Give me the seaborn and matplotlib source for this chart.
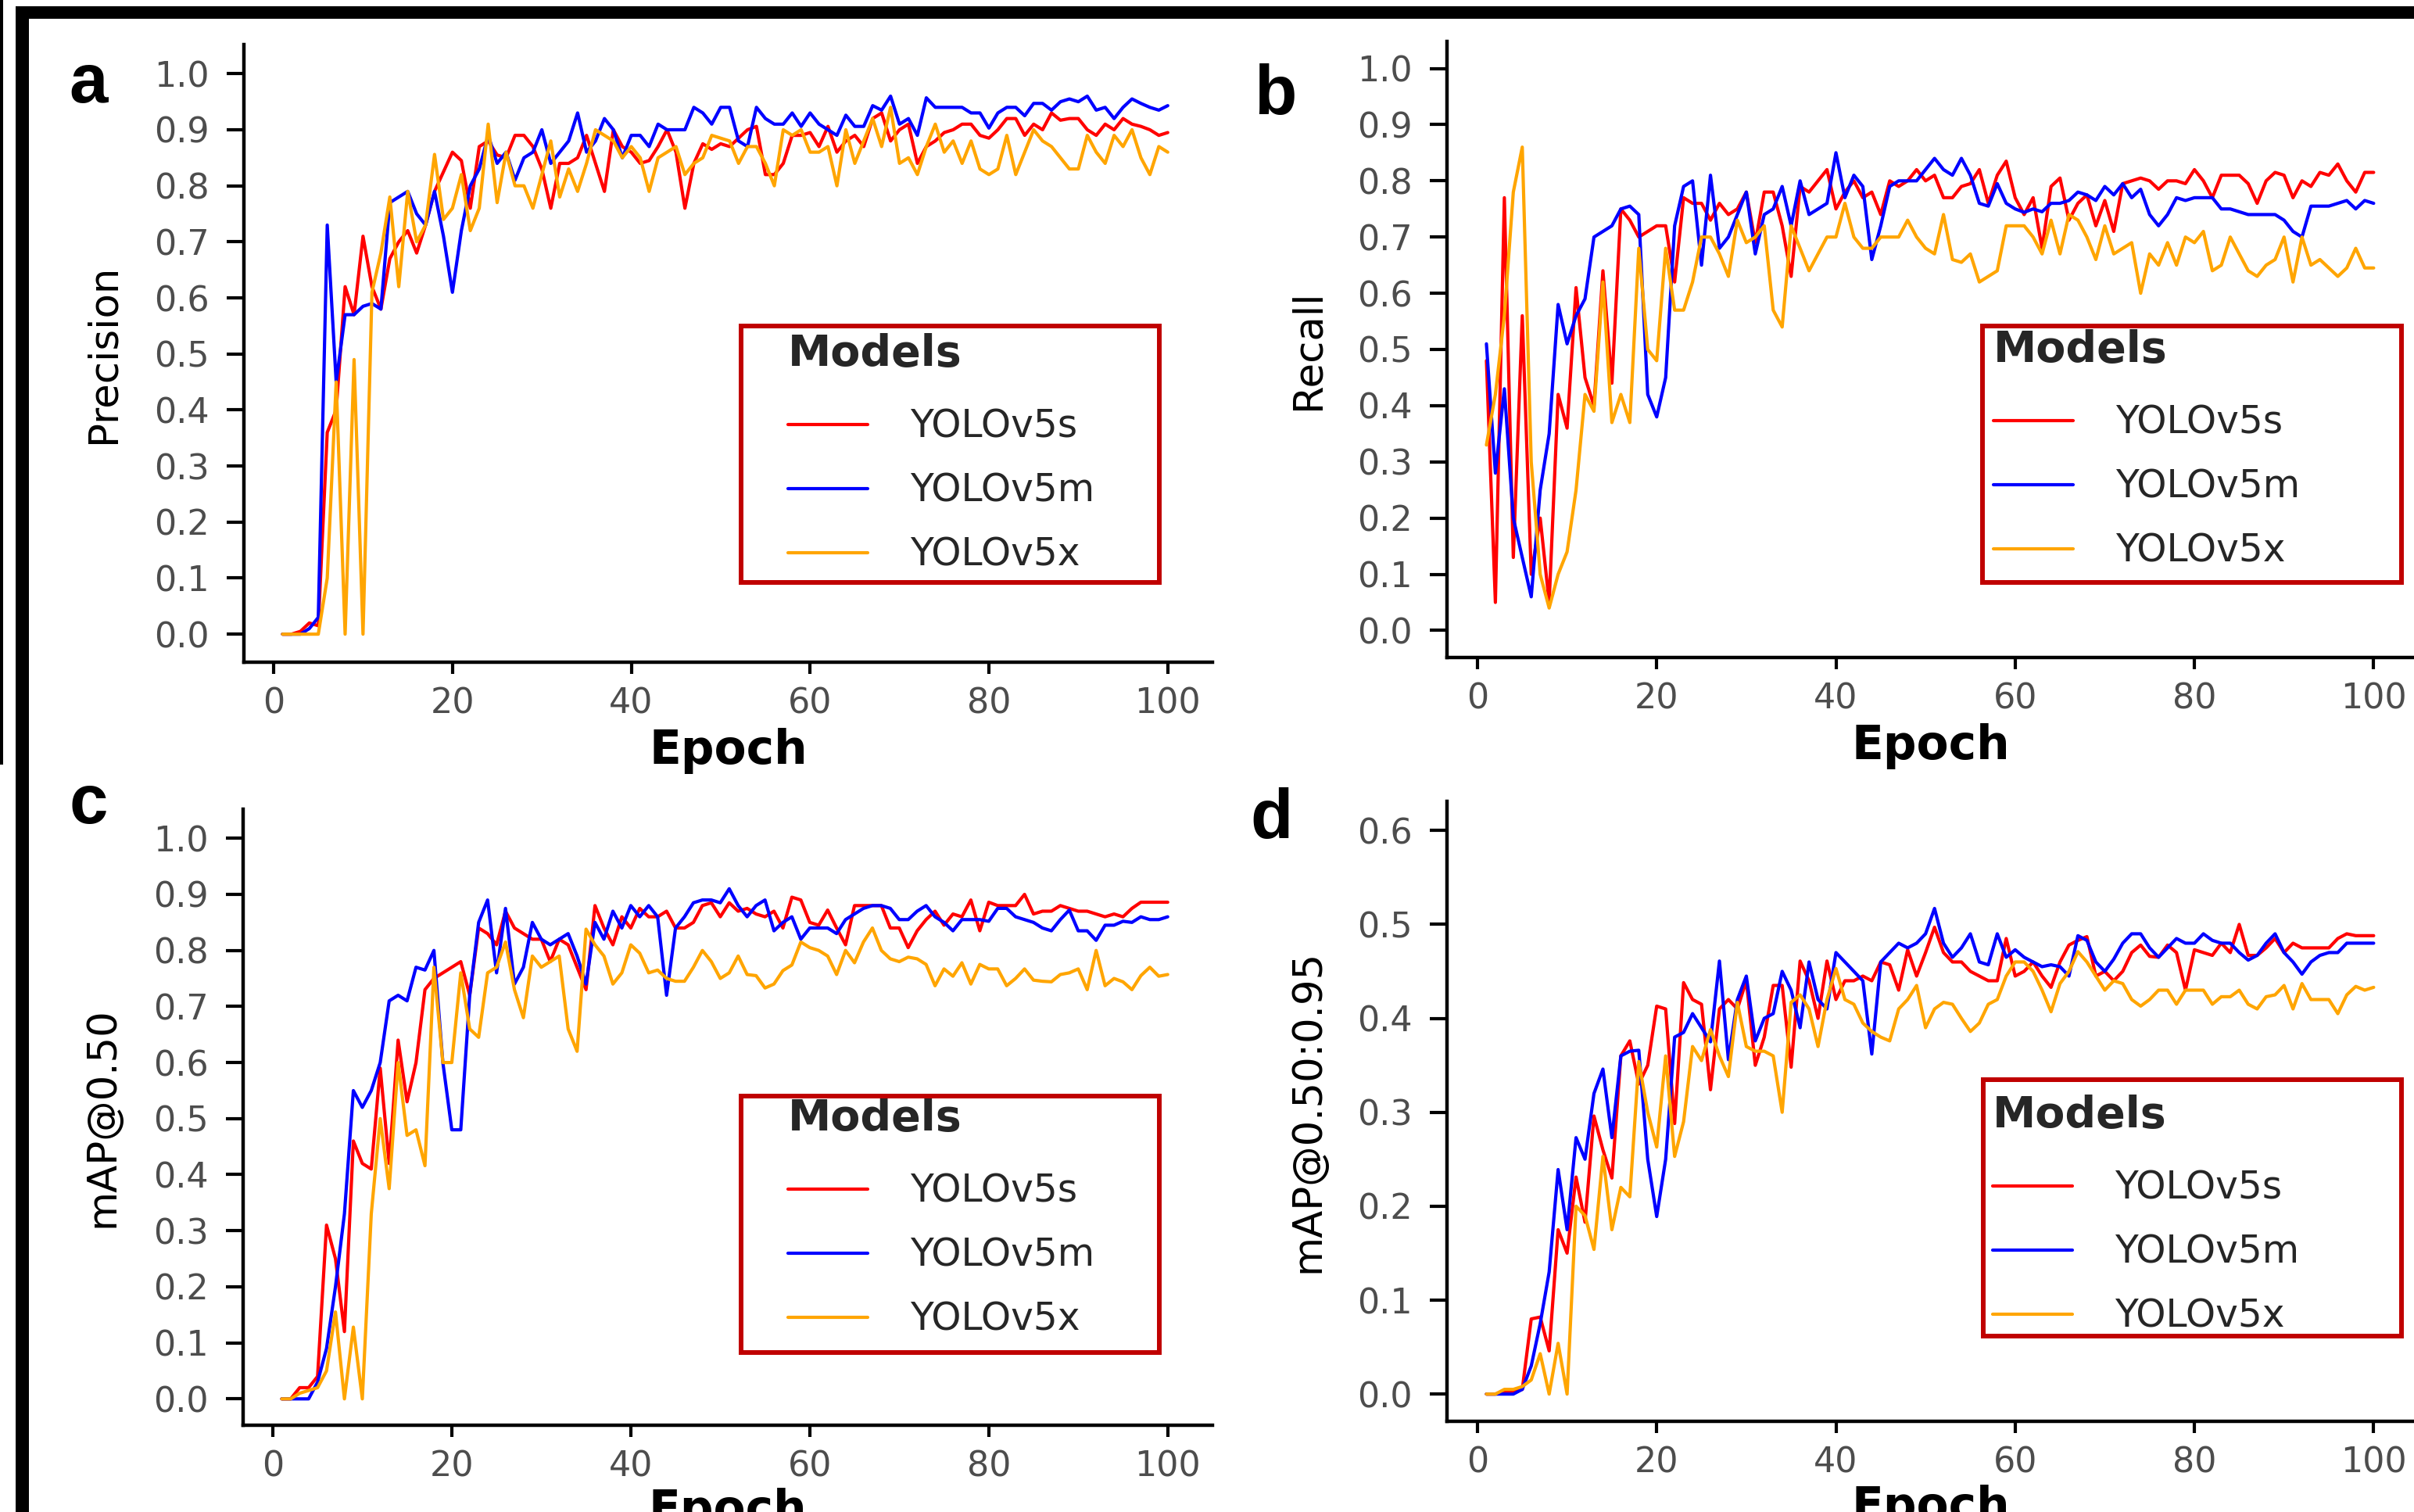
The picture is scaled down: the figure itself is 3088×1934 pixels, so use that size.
import numpy as np
import pandas as pd
import matplotlib
matplotlib.use("Agg")
import matplotlib.pyplot as plt
import seaborn as sns
from matplotlib.patches import Rectangle
from matplotlib.lines import Line2D
from matplotlib.ticker import FormatStrFormatter

# ---------------- data ----------------
epochs = list(range(1, 101))
models = ["YOLOv5s", "YOLOv5m", "YOLOv5x"]
model_colors = {"YOLOv5s": "#FF0000", "YOLOv5m": "#0000FF", "YOLOv5x": "#FFA500"}

precision_s = [0.0, 0.0, 0.005, 0.02, 0.015, 0.36, 0.40, 0.62, 0.57, 0.71,
               0.62, 0.58, 0.67, 0.70, 0.72, 0.68, 0.73, 0.79, 0.825, 0.86,
               0.845, 0.76, 0.87, 0.88, 0.855, 0.85, 0.89, 0.89, 0.87, 0.83,
               0.76, 0.84, 0.84, 0.85, 0.89, 0.84, 0.79, 0.90, 0.87, 0.86,
               0.84, 0.845, 0.87, 0.90, 0.86, 0.76, 0.84, 0.875, 0.865, 0.875,
               0.87, 0.885, 0.90, 0.906, 0.82, 0.82, 0.84, 0.89, 0.89, 0.895,
               0.87, 0.906, 0.86, 0.88, 0.89, 0.87, 0.92, 0.93, 0.88, 0.90,
               0.91, 0.84, 0.87, 0.88, 0.895, 0.90, 0.91, 0.91, 0.89, 0.885,
               0.90, 0.92, 0.92, 0.89, 0.91, 0.90, 0.93, 0.917, 0.92, 0.92,
               0.90, 0.89, 0.91, 0.90, 0.92, 0.91, 0.906, 0.90, 0.89, 0.895]
precision_m = [0.0, 0.0, 0.0, 0.01, 0.03, 0.73, 0.45, 0.57, 0.57, 0.585,
               0.59, 0.58, 0.77, 0.78, 0.79, 0.75, 0.73, 0.79, 0.71, 0.61,
               0.72, 0.80, 0.83, 0.89, 0.84, 0.86, 0.81, 0.85, 0.86, 0.90,
               0.84, 0.86, 0.88, 0.93, 0.86, 0.88, 0.92, 0.90, 0.85, 0.89,
               0.89, 0.87, 0.91, 0.90, 0.90, 0.90, 0.94, 0.93, 0.91, 0.94,
               0.94, 0.88, 0.87, 0.94, 0.92, 0.91, 0.91, 0.93, 0.906, 0.93,
               0.91, 0.90, 0.89, 0.926, 0.906, 0.906, 0.943, 0.935, 0.96, 0.91,
               0.92, 0.89, 0.957, 0.94, 0.94, 0.94, 0.94, 0.93, 0.93, 0.903,
               0.93, 0.94, 0.94, 0.925, 0.947, 0.947, 0.935, 0.95, 0.955, 0.95,
               0.96, 0.935, 0.94, 0.92, 0.94, 0.955, 0.947, 0.94, 0.935, 0.943]
precision_x = [0.0, 0.0, 0.0, 0.0, 0.0, 0.10, 0.45, 0.0, 0.49, 0.0,
               0.61, 0.68, 0.78, 0.62, 0.79, 0.70, 0.73, 0.856, 0.74, 0.76,
               0.82, 0.72, 0.76, 0.91, 0.77, 0.86, 0.80, 0.80, 0.76, 0.82,
               0.88, 0.78, 0.83, 0.79, 0.84, 0.90, 0.89, 0.88, 0.85, 0.87,
               0.85, 0.79, 0.85, 0.86, 0.87, 0.82, 0.84, 0.85, 0.89, 0.885,
               0.88, 0.84, 0.87, 0.87, 0.84, 0.80, 0.90, 0.89, 0.90, 0.86,
               0.86, 0.87, 0.80, 0.90, 0.84, 0.88, 0.92, 0.87, 0.94, 0.84,
               0.85, 0.82, 0.87, 0.91, 0.86, 0.88, 0.84, 0.88, 0.83, 0.82,
               0.83, 0.89, 0.82, 0.86, 0.90, 0.88, 0.87, 0.85, 0.83, 0.83,
               0.89, 0.86, 0.84, 0.89, 0.87, 0.90, 0.85, 0.82, 0.87, 0.86]

recall_s = [0.48, 0.05, 0.77, 0.13, 0.56, 0.10, 0.20, 0.05, 0.42, 0.36,
            0.61, 0.45, 0.40, 0.64, 0.44, 0.75, 0.73, 0.70, 0.71, 0.72,
            0.72, 0.62, 0.77, 0.76, 0.76, 0.73, 0.76, 0.74, 0.75, 0.78,
            0.69, 0.78, 0.78, 0.72, 0.63, 0.79, 0.78, 0.80, 0.82, 0.75,
            0.78, 0.80, 0.77, 0.78, 0.74, 0.80, 0.79, 0.80, 0.82, 0.80,
            0.81, 0.77, 0.77, 0.79, 0.795, 0.82, 0.76, 0.81, 0.835, 0.77,
            0.74, 0.77, 0.68, 0.79, 0.805, 0.73, 0.76, 0.775, 0.72, 0.765,
            0.71, 0.795, 0.80, 0.805, 0.80, 0.785, 0.80, 0.80, 0.795, 0.82,
            0.80, 0.77, 0.81, 0.81, 0.81, 0.795, 0.76, 0.80, 0.815, 0.81,
            0.77, 0.80, 0.79, 0.815, 0.81, 0.83, 0.80, 0.78, 0.815, 0.815]
recall_m = [0.51, 0.28, 0.43, 0.20, 0.13, 0.06, 0.25, 0.35, 0.58, 0.51,
            0.56, 0.59, 0.70, 0.71, 0.72, 0.75, 0.755, 0.74, 0.42, 0.38,
            0.45, 0.72, 0.79, 0.80, 0.65, 0.81, 0.68, 0.70, 0.74, 0.78,
            0.67, 0.74, 0.75, 0.79, 0.72, 0.80, 0.74, 0.75, 0.76, 0.85,
            0.77, 0.81, 0.79, 0.66, 0.72, 0.79, 0.80, 0.80, 0.80, 0.82,
            0.84, 0.82, 0.81, 0.84, 0.81, 0.76, 0.755, 0.795, 0.76, 0.75,
            0.744, 0.75, 0.745, 0.76, 0.76, 0.765, 0.78, 0.775, 0.765, 0.79,
            0.775, 0.795, 0.77, 0.785, 0.74, 0.72, 0.74, 0.77, 0.765, 0.77,
            0.77, 0.77, 0.75, 0.75, 0.745, 0.74, 0.74, 0.74, 0.74, 0.73,
            0.71, 0.70, 0.755, 0.755, 0.755, 0.76, 0.765, 0.75, 0.765, 0.76]
recall_x = [0.33, 0.42, 0.56, 0.78, 0.86, 0.30, 0.10, 0.04, 0.10, 0.14,
            0.25, 0.42, 0.39, 0.62, 0.37, 0.42, 0.37, 0.68, 0.50, 0.48,
            0.68, 0.57, 0.57, 0.62, 0.70, 0.70, 0.67, 0.63, 0.73, 0.69,
            0.70, 0.72, 0.57, 0.54, 0.72, 0.68, 0.64, 0.67, 0.70, 0.70,
            0.76, 0.70, 0.68, 0.68, 0.70, 0.70, 0.70, 0.73, 0.70, 0.68,
            0.67, 0.74, 0.66, 0.655, 0.67, 0.62, 0.63, 0.64, 0.72, 0.72,
            0.72, 0.70, 0.67, 0.73, 0.67, 0.74, 0.73, 0.70, 0.66, 0.72,
            0.67, 0.68, 0.69, 0.60, 0.67, 0.65, 0.69, 0.65, 0.70, 0.69,
            0.71, 0.64, 0.65, 0.70, 0.67, 0.64, 0.63, 0.65, 0.66, 0.70,
            0.62, 0.70, 0.65, 0.66, 0.645, 0.63, 0.645, 0.68, 0.645, 0.645]

map50_s = [0.0, 0.0, 0.02, 0.02, 0.04, 0.31, 0.25, 0.12, 0.46, 0.42,
           0.41, 0.59, 0.42, 0.64, 0.53, 0.60, 0.73, 0.75, 0.76, 0.77,
           0.78, 0.72, 0.84, 0.83, 0.81, 0.87, 0.84, 0.83, 0.82, 0.82,
           0.78, 0.82, 0.81, 0.77, 0.73, 0.88, 0.84, 0.81, 0.86, 0.84,
           0.875, 0.86, 0.86, 0.87, 0.84, 0.84, 0.85, 0.88, 0.885, 0.86,
           0.885, 0.87, 0.875, 0.865, 0.86, 0.87, 0.84, 0.895, 0.89, 0.85,
           0.845, 0.872, 0.84, 0.81, 0.88, 0.88, 0.88, 0.88, 0.84, 0.84,
           0.805, 0.835, 0.855, 0.87, 0.845, 0.865, 0.86, 0.89, 0.835, 0.886,
           0.88, 0.88, 0.88, 0.90, 0.865, 0.87, 0.87, 0.88, 0.875, 0.87,
           0.87, 0.865, 0.86, 0.865, 0.86, 0.875, 0.886, 0.886, 0.886, 0.886]
map50_m = [0.0, 0.0, 0.0, 0.0, 0.03, 0.09, 0.20, 0.33, 0.55, 0.52,
           0.55, 0.60, 0.71, 0.72, 0.71, 0.77, 0.765, 0.80, 0.60, 0.48,
           0.48, 0.72, 0.85, 0.89, 0.76, 0.875, 0.74, 0.77, 0.85, 0.82,
           0.81, 0.82, 0.83, 0.79, 0.74, 0.85, 0.82, 0.87, 0.84, 0.88,
           0.86, 0.88, 0.86, 0.72, 0.84, 0.86, 0.885, 0.89, 0.89, 0.885,
           0.91, 0.88, 0.86, 0.88, 0.89, 0.835, 0.85, 0.86, 0.82, 0.84,
           0.84, 0.84, 0.83, 0.855, 0.865, 0.875, 0.88, 0.88, 0.875, 0.855,
           0.855, 0.87, 0.88, 0.86, 0.85, 0.835, 0.855, 0.855, 0.855, 0.852,
           0.875, 0.875, 0.86, 0.855, 0.85, 0.84, 0.835, 0.855, 0.872, 0.835,
           0.835, 0.818, 0.845, 0.845, 0.852, 0.85, 0.86, 0.855, 0.855, 0.86]
map50_x = [0.0, 0.0, 0.01, 0.015, 0.02, 0.05, 0.155, 0.0, 0.128, 0.0,
           0.33, 0.50, 0.375, 0.60, 0.47, 0.48, 0.416, 0.77, 0.60, 0.60,
           0.76, 0.66, 0.645, 0.76, 0.77, 0.815, 0.73, 0.68, 0.79, 0.77,
           0.78, 0.79, 0.66, 0.62, 0.838, 0.81, 0.79, 0.74, 0.76, 0.81,
           0.795, 0.76, 0.765, 0.75, 0.745, 0.745, 0.77, 0.80, 0.78, 0.75,
           0.76, 0.79, 0.757, 0.755, 0.733, 0.74, 0.764, 0.774, 0.815, 0.805,
           0.80, 0.79, 0.757, 0.80, 0.778, 0.815, 0.84, 0.80, 0.785, 0.78,
           0.788, 0.785, 0.775, 0.737, 0.767, 0.754, 0.778, 0.74, 0.775, 0.767,
           0.767, 0.737, 0.75, 0.767, 0.747, 0.745, 0.744, 0.757, 0.76, 0.767,
           0.73, 0.80, 0.737, 0.75, 0.744, 0.73, 0.755, 0.77, 0.754, 0.757]

map5095_s = [0.0, 0.0, 0.003, 0.003, 0.005, 0.08, 0.082, 0.046, 0.175, 0.15,
             0.231, 0.183, 0.296, 0.26, 0.23, 0.36, 0.376, 0.33, 0.35, 0.413,
             0.41, 0.288, 0.438, 0.42, 0.415, 0.324, 0.41, 0.42, 0.41, 0.44,
             0.35, 0.38, 0.435, 0.435, 0.348, 0.461, 0.44, 0.40, 0.461, 0.42,
             0.44, 0.44, 0.445, 0.44, 0.46, 0.457, 0.43, 0.473, 0.445, 0.47,
             0.497, 0.47, 0.46, 0.46, 0.45, 0.445, 0.44, 0.44, 0.485, 0.445,
             0.45, 0.46, 0.445, 0.433, 0.46, 0.478, 0.483, 0.487, 0.445, 0.45,
             0.44, 0.45, 0.47, 0.478, 0.466, 0.465, 0.478, 0.47, 0.43, 0.473,
             0.47, 0.467, 0.48, 0.47, 0.50, 0.467, 0.467, 0.475, 0.485, 0.47,
             0.48, 0.475, 0.475, 0.475, 0.475, 0.485, 0.49, 0.488, 0.488, 0.488]
map5095_m = [0.0, 0.0, 0.0, 0.0, 0.005, 0.03, 0.075, 0.13, 0.239, 0.175,
             0.273, 0.25, 0.32, 0.346, 0.273, 0.36, 0.365, 0.366, 0.25, 0.189,
             0.25, 0.38, 0.385, 0.405, 0.39, 0.375, 0.461, 0.356, 0.42, 0.445,
             0.376, 0.40, 0.405, 0.45, 0.43, 0.39, 0.46, 0.42, 0.41, 0.47,
             0.46, 0.45, 0.44, 0.362, 0.46, 0.47, 0.48, 0.475, 0.48, 0.49,
             0.517, 0.48, 0.465, 0.475, 0.49, 0.46, 0.457, 0.49, 0.465, 0.473,
             0.465, 0.46, 0.455, 0.457, 0.455, 0.445, 0.488, 0.483, 0.46, 0.45,
             0.463, 0.48, 0.49, 0.49, 0.475, 0.465, 0.475, 0.485, 0.48, 0.48,
             0.49, 0.483, 0.48, 0.48, 0.47, 0.462, 0.467, 0.48, 0.49, 0.47,
             0.46, 0.447, 0.46, 0.467, 0.47, 0.47, 0.48, 0.48, 0.48, 0.48]
map5095_x = [0.0, 0.0, 0.005, 0.005, 0.008, 0.015, 0.043, 0.0, 0.054, 0.0,
             0.20, 0.19, 0.154, 0.253, 0.175, 0.22, 0.21, 0.354, 0.30, 0.263,
             0.36, 0.253, 0.29, 0.37, 0.355, 0.388, 0.36, 0.338, 0.417, 0.37,
             0.365, 0.365, 0.36, 0.30, 0.417, 0.425, 0.41, 0.37, 0.42, 0.453,
             0.42, 0.415, 0.395, 0.386, 0.38, 0.376, 0.41, 0.42, 0.435, 0.39,
             0.41, 0.417, 0.415, 0.40, 0.386, 0.395, 0.415, 0.42, 0.445, 0.46,
             0.46, 0.45, 0.43, 0.407, 0.437, 0.45, 0.471, 0.46, 0.445, 0.43,
             0.44, 0.437, 0.42, 0.413, 0.42, 0.43, 0.43, 0.415, 0.43, 0.43,
             0.43, 0.415, 0.423, 0.423, 0.43, 0.415, 0.41, 0.423, 0.425, 0.435,
             0.41, 0.437, 0.42, 0.42, 0.42, 0.405, 0.425, 0.434, 0.43, 0.433]

xticks = [0, 20, 40, 60, 80, 100]
yticks_full = [0.0, 0.1, 0.2, 0.3, 0.4, 0.5, 0.6, 0.7, 0.8, 0.9, 1.0]
yticks_d = [0.0, 0.1, 0.2, 0.3, 0.4, 0.5, 0.6]

# ---------------- style ----------------
sns.set_style("ticks")
plt.rcParams["font.family"] = ["DejaVu Sans"]

W, H = 3088, 1934
fig = plt.figure(figsize=(W / 100, H / 100), dpi=100)


def frac_rect(x0, y0, x1, y1):
    return [x0 / W, 1 - y1 / H, (x1 - x0) / W, (y1 - y0) / H]


panels = [
    dict(rect=(312, 57, 1551, 847), xlim=(-3.32, 105.0), ylim=(-0.05, 1.052),
         yticks=yticks_full, ylabel="Precision",
         series=(precision_s, precision_m, precision_x),
         letter="a", letter_xy=(88, 131), anchor=(1008, 426),
         frame=(948, 417, 1483, 745), ylab_x=-0.125, xlab_y=-0.106),
    dict(rect=(1851, 53, 3088, 841), xlim=(-3.4, 104.5), ylim=(-0.048, 1.048),
         yticks=yticks_full, ylabel="Recall",
         series=(recall_s, recall_m, recall_x),
         letter="b", letter_xy=(1604, 146), anchor=(2550, 421),
         frame=(2536, 417, 3072, 745), ylab_x=-0.123, xlab_y=-0.106),
    dict(rect=(311, 1035, 1551, 1823), xlim=(-3.32, 105.0), ylim=(-0.047, 1.052),
         yticks=yticks_full, ylabel="mAP@0.50",
         series=(map50_s, map50_m, map50_x),
         letter="c", letter_xy=(88, 1053), anchor=(1008, 1404),
         frame=(948, 1402, 1483, 1730), ylab_x=-0.125, xlab_y=-0.102),
    dict(rect=(1851, 1025, 3088, 1818), xlim=(-3.4, 104.5), ylim=(-0.029, 0.631),
         yticks=yticks_d, ylabel="mAP@0.50:0.95",
         series=(map5095_s, map5095_m, map5095_x),
         letter="d", letter_xy=(1599, 1072), anchor=(2549, 1400),
         frame=(2537, 1381, 3072, 1709), ylab_x=-0.123, xlab_y=-0.102),
]

LW = 3.0
LEG_FS = 35
for p in panels:
    ax = fig.add_axes(frac_rect(*p["rect"]))
    s, m, x = p["series"]
    df = pd.DataFrame({
        "Epoch": epochs * 3,
        "value": list(s) + list(m) + list(x),
        "Model": [models[0]] * len(s) + [models[1]] * len(m) + [models[2]] * len(x),
    })
    sns.lineplot(data=df, x="Epoch", y="value", hue="Model", hue_order=models,
                 palette=model_colors, linewidth=LW, ax=ax, legend=False)

    ax.set_xlim(*p["xlim"])
    ax.set_ylim(*p["ylim"])
    ax.set_xticks(xticks)
    ax.set_yticks(p["yticks"])
    ax.yaxis.set_major_formatter(FormatStrFormatter("%.1f"))
    for side in ("top", "right"):
        ax.spines[side].set_visible(False)
    for side in ("left", "bottom"):
        ax.spines[side].set_linewidth(3.2)
        ax.spines[side].set_color("black")
    ax.tick_params(axis="y", direction="out", length=16, width=3.0, color="black",
                   labelcolor="#4D4D4D", labelsize=32, pad=16)
    ax.tick_params(axis="x", direction="out", length=11, width=3.0, color="black",
                   labelcolor="#4D4D4D", labelsize=32, pad=12)
    ax.set_xlabel("Epoch", fontsize=43, fontweight="bold", color="black")
    ax.xaxis.set_label_coords(0.5, p["xlab_y"])
    ax.set_ylabel(p["ylabel"], fontsize=37, color="black")
    ax.yaxis.set_label_coords(p["ylab_x"], 0.5)
    ax.grid(False)

    handles = [Line2D([], [], color=model_colors[k], lw=LW) for k in models]
    leg = ax.legend(handles, models, title="Models", loc="upper left",
                    bbox_to_anchor=(p["anchor"][0] / W, 1 - p["anchor"][1] / H),
                    bbox_transform=fig.transFigure, frameon=False, fontsize=LEG_FS,
                    title_fontproperties={"size": 40, "weight": "bold"},
                    handlelength=2.1, handletextpad=1.1, labelspacing=0.70,
                    borderpad=0, borderaxespad=0, alignment="left")
    # larger gap between the legend title and its entries
    leg._legend_box.sep = 30

    fx0, fy0, fx1, fy1 = p["frame"]
    fig.add_artist(Rectangle((fx0 / W, 1 - fy1 / H), (fx1 - fx0) / W, (fy1 - fy0) / H,
                             transform=fig.transFigure, fill=False,
                             edgecolor="#C00000", linewidth=4.3, zorder=5))

    lx, ly = p["letter_xy"]
    fig.text(lx / W, 1 - ly / H, p["letter"], fontsize=64, fontweight="bold",
             family=["Liberation Sans", "DejaVu Sans"], ha="left", va="baseline",
             color="black")

# black frame remnants around the figure
fig.add_artist(Rectangle((20 / W, 1 - 24 / H), 1.0, 16 / H, transform=fig.transFigure,
                         facecolor="black", edgecolor="none", zorder=6))
fig.add_artist(Rectangle((20 / W, 0), 17 / W, 1 - 8 / H, transform=fig.transFigure,
                         facecolor="black", edgecolor="none", zorder=6))
fig.add_artist(Rectangle((0, 1 - 978 / H), 4 / W, 978 / H, transform=fig.transFigure,
                         facecolor="black", edgecolor="none", zorder=6))

fig.savefig("out.png", dpi=100)
